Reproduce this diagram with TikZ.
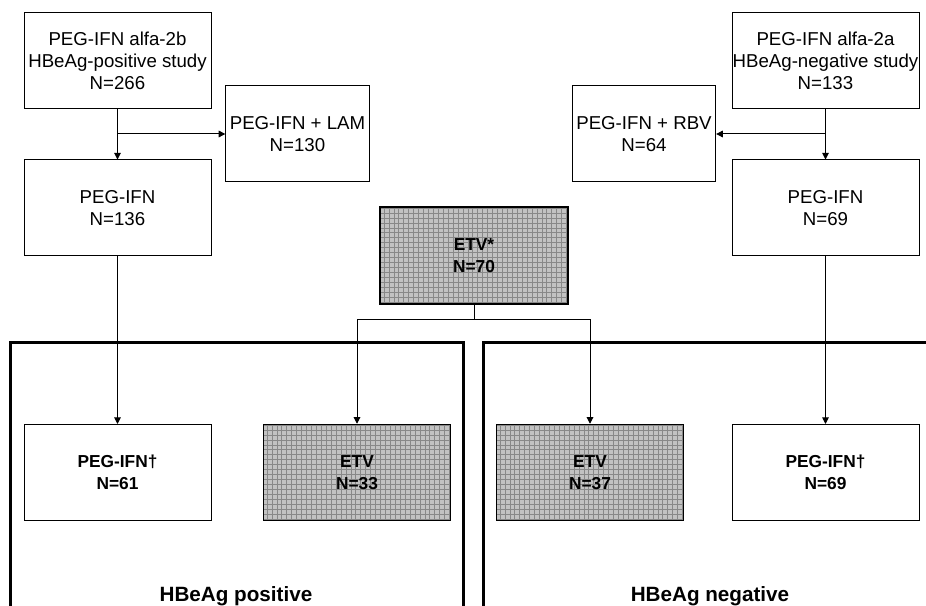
\documentclass[tikz,border=0pt]{standalone}
\usepackage{fontspec}
\setmainfont{Liberation Sans}
\usetikzlibrary{arrows.meta}
\definecolor{gridfill}{HTML}{C2C2C2}
\definecolor{gridline}{HTML}{888888}
\begin{document}
\begin{tikzpicture}[x=0.75pt,y=-0.75pt,
  box/.style={draw, line width=0.75pt, minimum width=140.25pt, minimum height=72pt, inner sep=0pt, align=center, font=\fontsize{14}{16.3}\selectfont},
  smallbox/.style={box, minimum width=107.5pt},
  boldbox/.style={box, font=\fontsize{13}{16.3}\selectfont\bfseries},
  etvbox/.style={boldbox, line width=1.1pt, fill=gridfill,
    path picture={\draw[gridline, line width=0.45pt, step=3.7pt] (path picture bounding box.south west) grid (path picture bounding box.north east);}},
  arr/.style={line width=0.75pt, -{Triangle[length=5pt,width=5pt]}},
  conn/.style={line width=0.75pt},
  frame/.style={line width=2.25pt},
  grouplabel/.style={font=\fontsize{15.5}{18}\selectfont\bfseries, anchor=base, inner sep=0pt}]
\useasboundingbox (0,0) rectangle (926,606);
% top row
\node[box] (b1) at (117.5,61) {PEG-IFN alfa-2b\\HBeAg-positive study\\N=266};
\node[box] (b2) at (825.5,61) {PEG-IFN alfa-2a\\HBeAg-negative study\\N=133};
\node[smallbox] (lam) at (297.5,134) {PEG-IFN + LAM\\N=130};
\node[smallbox] (rbv) at (644,134) {PEG-IFN + RBV\\N=64};
\node[box] (p136) at (117.5,208) {PEG-IFN\\N=136};
\node[box] (p69) at (825.5,208) {PEG-IFN\\N=69};
\node[etvbox, minimum width=141pt, minimum height=72.75pt] (etv) at (474,255.5) {ETV*\\N=70};
% bottom row
\node[boldbox] (pos61) at (117.5,472.5) {PEG-IFN\textdagger\\N=61};
\node[etvbox] (etv33) at (357,472.5) {ETV\\N=33};
\node[etvbox] (etv37) at (590,472.5) {ETV\\N=37};
\node[boldbox] (neg69) at (825.5,472.5) {PEG-IFN\textdagger\\N=69};
% frames
\begin{scope}
\clip (0,0) rectangle (926,606);
\draw[frame] (10,620) -- (10,343) -- (463,343) -- (463,620);
\draw[frame] (483,620) -- (483,343) -- (940,343);
\end{scope}
\node[grouplabel] (lpos) at (236,601) {HBeAg positive};
\node[grouplabel] (lneg) at (710,601) {HBeAg negative};
% connectors
\draw[arr] (b1.south) -- (p136.north);
\draw[arr] (b1.south |- lam.west) -- (lam.west);
\draw[arr] (b2.south) -- (p69.north);
\draw[arr] (b2.south |- rbv.east) -- (rbv.east);
\draw[arr] (p136.south) -- (pos61.north);
\draw[arr] (p69.south) -- (neg69.north);
\coordinate (split) at (474,320);
\draw[conn] (etv.south) -- (split);
\draw[arr] (split) -| (etv33.north);
\draw[arr] (split) -| (etv37.north);
\end{tikzpicture}
\end{document}
